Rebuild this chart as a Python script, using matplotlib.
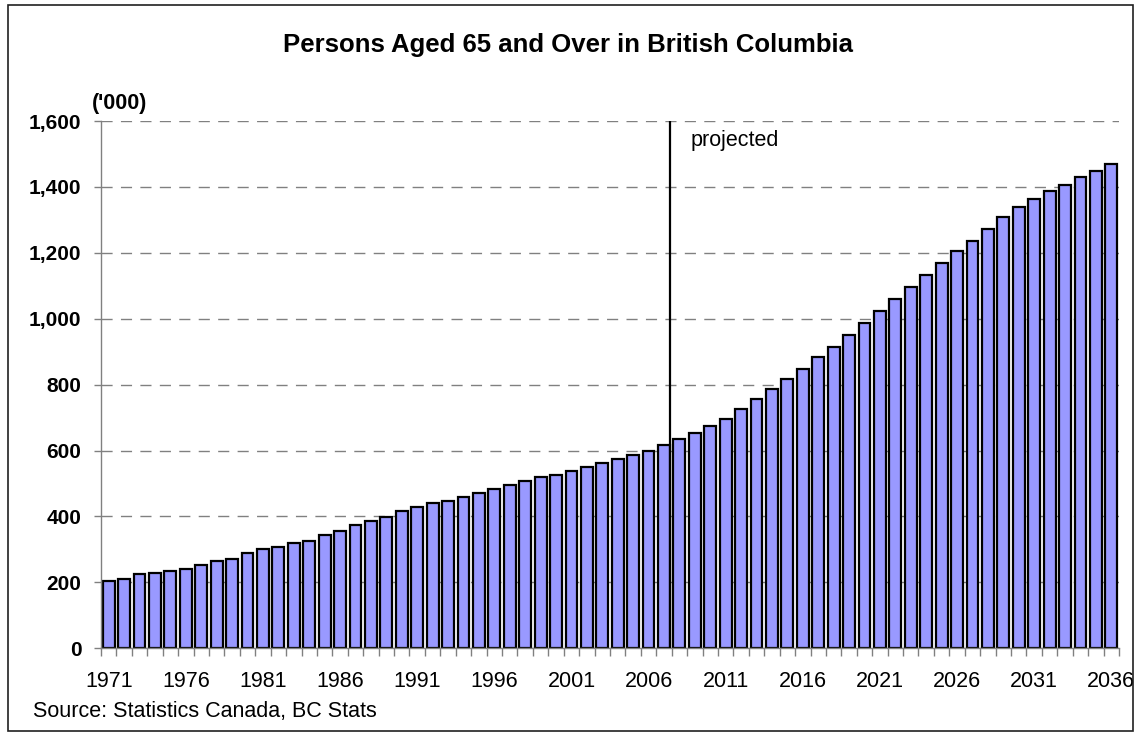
import matplotlib
matplotlib.use("Agg")
import matplotlib.pyplot as plt
from matplotlib.patches import Rectangle
from matplotlib.ticker import FuncFormatter, MultipleLocator

plt.rcParams['font.family'] = ['Liberation Sans', 'DejaVu Sans']

years = list(range(1971, 2037))
persons = [205, 211, 224, 229, 235, 241, 253, 265, 271, 290,
           302, 308, 320, 326, 344, 356, 375, 387, 399, 417,
           429, 442, 448, 459, 472, 484, 497, 508, 520, 527,
           538, 550, 562, 575, 587, 599, 617, 635, 653, 675,
           696, 726, 756, 787, 817, 847, 884, 914, 950, 987,
           1023, 1059, 1096, 1132, 1168, 1205, 1235, 1272, 1308, 1338,
           1362, 1387, 1405, 1429, 1447, 1471]
label_years = list(range(1971, 2037, 5))
proj_split = 2007.4

W, H = 1142, 736
fig = plt.figure(figsize=(W / 100, H / 100), dpi=100)
ax = fig.add_axes([101 / W, 1 - 648.3 / H, (1119 - 101) / W, (648.3 - 121) / H])

ax.bar(years, persons, width=0.77, color='#9999ff', edgecolor='black',
       linewidth=1.6, zorder=3)

ax.set_xlim(years[0] - 0.5, years[-1] + 0.5)
ax.set_ylim(0, 1600)

# grid
ax.yaxis.set_major_locator(MultipleLocator(200))
ax.grid(axis='y', color='#808080', linestyle=(0, (8, 6)), linewidth=1, zorder=1)
ax.set_axisbelow(True)

for s in ['top', 'right']:
    ax.spines[s].set_visible(False)
for s in ['left', 'bottom']:
    ax.spines[s].set_color('#808080')
    ax.spines[s].set_linewidth(1)
    ax.spines[s].set_zorder(4)

ax.yaxis.set_major_formatter(FuncFormatter(lambda v, p: f'{int(v):,}'))
ax.tick_params(axis='y', length=5, width=1, color='#808080', pad=9,
               labelsize=15)
for t in ax.get_yticklabels():
    t.set_fontweight('bold')

# x: labels every 5 years, tick marks between bars
ax.set_xticks(label_years)
ax.set_xticklabels([str(y) for y in label_years])
ax.set_xticks([y + 0.5 for y in years[:-1]] + [years[0] - 0.5, years[-1] + 0.5],
              minor=True)
ax.tick_params(axis='x', which='major', length=0, pad=16, labelsize=15.5)
ax.tick_params(axis='x', which='minor', length=6, width=1, color='#808080')

# projection split
ax.vlines(proj_split, 0, 1600, color='black', linewidth=1.6, zorder=5)
ax.text(2008.7, 1540, 'projected', fontsize=15.5, ha='left', va='center')

fig.text(568 / W, 1 - 45 / H, 'Persons Aged 65 and Over in British Columbia',
         fontsize=18.5, fontweight='bold', ha='center', va='center')
fig.text(92 / W, 1 - 104 / H, "('000)", fontsize=15.5, fontweight='bold',
         ha='left', va='center')
fig.text(33 / W, 1 - 712 / H, 'Source: Statistics Canada, BC Stats',
         fontsize=15.5, ha='left', va='center')

fig.patches.append(Rectangle((8 / W, 1 - 731 / H), (1133 - 8) / W, (731 - 5) / H,
                             transform=fig.transFigure, fill=False,
                             edgecolor='#202020', linewidth=1.2))

fig.savefig('out.png', dpi=100)
